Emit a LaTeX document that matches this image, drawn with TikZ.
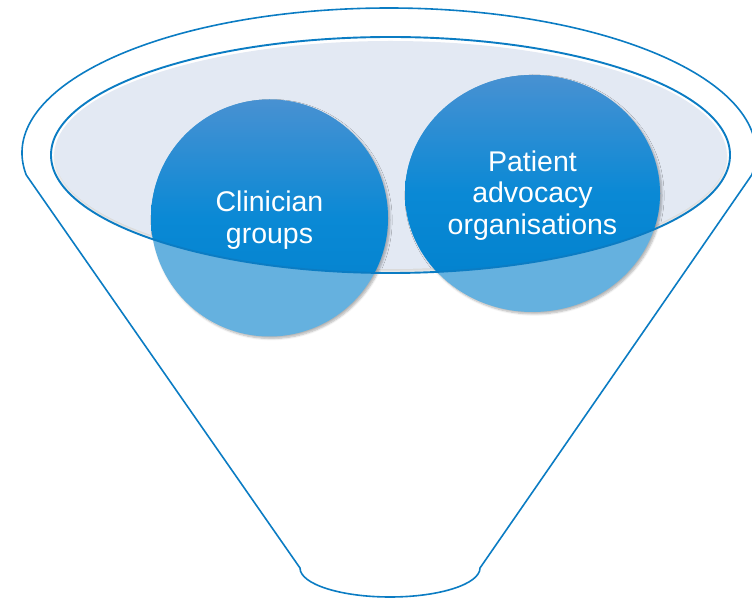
\documentclass[tikz,border=0pt]{standalone}
\usepackage{fontspec}
\setmainfont{Liberation Sans}
\usetikzlibrary{shadows.blur}
\definecolor{funnelblue}{RGB}{11,124,195}
\definecolor{rimfill}{RGB}{227,233,243}
\definecolor{bubbletop}{RGB}{72,145,210}
\definecolor{bubblemid}{RGB}{10,137,213}
\definecolor{bubblelow}{RGB}{0,128,204}
\definecolor{bubblepale}{RGB}{101,177,223}
\pgfdeclareverticalshading{bubbleshade}{100bp}{color(0bp)=(bubblelow); color(25bp)=(bubblelow); color(50bp)=(bubblemid); color(75bp)=(bubbletop); color(100bp)=(bubbletop)}

\begin{document}
\begin{tikzpicture}[x=1pt,y=1pt,
  funnel/.style={draw=funnelblue,line width=1.6pt},
  rim/.style={draw=funnelblue,line width=1.9pt},
  soft/.style={blur shadow={shadow xshift=2pt,shadow yshift=-2pt,shadow opacity=30,shadow blur steps=6}},
  caption/.style={text=white,align=center,font=\fontsize{28.5}{31.5}\selectfont}]
\useasboundingbox (0,0) rectangle (752,600);
\draw[funnel] (389,447) ++(188.73:367 and 145) arc[start angle=188.73,end angle=-8.73,x radius=367,y radius=145] -- (480,32) arc[start angle=0,end angle=-180,x radius=90,y radius=29] -- cycle;
\fill[rimfill,blur shadow={shadow xshift=0pt,shadow yshift=-3pt,shadow opacity=15,shadow blur steps=4}] (390.5,445) ellipse (336 and 114);
\fill[bubblepale,soft] (269.5,382) circle (118.5);
\fill[bubblepale,soft] (532.5,406.5) ellipse (127.5 and 118.5);
\begin{scope}
\clip (390.5,445) ellipse (339.5 and 118);
\shade[shading=bubbleshade] (269.5,382) circle (118.5);
\shade[shading=bubbleshade] (532.5,406.5) ellipse (127.5 and 118.5);
\end{scope}
\draw[rim] (390.5,445) ellipse (339.5 and 118);
\node[caption] (clinician) at (269.5,380) {Clinician\\groups};
\node[caption] (patient) at (532.5,404.5) {Patient\\advocacy\\organisations};
\end{tikzpicture}
\end{document}
